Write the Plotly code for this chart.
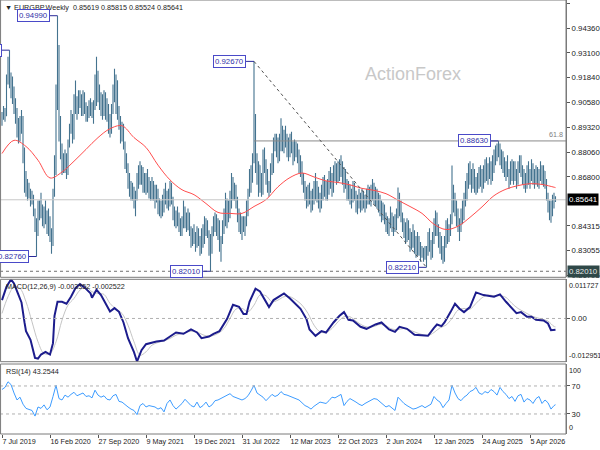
import pandas as pd
import plotly.graph_objects as go

START = pd.Timestamp("2019-07-07")

# weekly EURGBP bars, in pips (0.0001), first bar = week of 7 Jul 2019
lows = [
    8940, 8970, 8960, 8990, 9150, 9130, 9080, 9050, 9000, 8950,
    8880, 8850, 8860, 8900, 8750, 8600, 8580, 8560, 8570, 8530,
    8540, 8480, 8400, 8276, 8380, 8460, 8470, 8430, 8420, 8440,
    8390, 8380, 8350, 8290, 8330, 8580, 8690, 9020, 8860, 8770,
    8690, 8700, 8700, 8670, 8690, 8830, 8900, 8850, 8870, 9000,
    8970, 9000, 9030, 8990, 8990, 9000, 8960, 8960, 8980, 8990,
    8980, 8950, 9020, 9040, 9060, 9020, 8990, 8970, 8990, 8970,
    8960, 8900, 8880, 8900, 9000, 9060, 9000, 8970, 8920, 8850,
    8860, 8820, 8720, 8700, 8620, 8580, 8560, 8560, 8520, 8480,
    8560, 8620, 8640, 8640, 8600, 8600, 8590, 8600, 8570, 8560,
    8560, 8560, 8520, 8550, 8490, 8480, 8470, 8480, 8500, 8540,
    8520, 8510, 8530, 8540, 8460, 8430, 8420, 8430, 8400, 8380,
    8380, 8420, 8420, 8400, 8410, 8380, 8320, 8330, 8340, 8300,
    8320, 8330, 8280, 8290, 8320, 8340, 8380, 8370, 8280, 8201,
    8290, 8380, 8400, 8380, 8360, 8300, 8250, 8340, 8390, 8430,
    8420, 8450, 8470, 8520, 8560, 8560, 8520, 8450, 8400, 8390,
    8360, 8400, 8380, 8430, 8480, 8580, 8600, 8650, 8750, 8700,
    8640, 8580, 8600, 8580, 8590, 8700, 8640, 8600, 8580, 8600,
    8690, 8700, 8810, 8780, 8750, 8760, 8810, 8810, 8800, 8830,
    8780, 8760, 8780, 8800, 8740, 8760, 8780, 8750, 8700, 8680,
    8640, 8600, 8560, 8520, 8530, 8540, 8500, 8510, 8540, 8560,
    8550, 8520, 8500, 8520, 8560, 8580, 8560, 8560, 8590, 8620,
    8580, 8600, 8660, 8640, 8650, 8660, 8680, 8640, 8600, 8620,
    8560, 8560, 8540, 8520, 8550, 8560, 8500, 8490, 8520, 8500,
    8510, 8520, 8500, 8520, 8540, 8540, 8530, 8560, 8540, 8530,
    8520, 8500, 8480, 8450, 8460, 8440, 8400, 8390, 8380, 8420,
    8400, 8380, 8400, 8410, 8470, 8480, 8450, 8400, 8370, 8340,
    8350, 8360, 8300, 8310, 8320, 8290, 8270, 8280, 8280, 8250,
    8270, 8250, 8260, 8221, 8280, 8300, 8260, 8270, 8340, 8380,
    8380, 8320, 8290, 8260, 8239, 8250, 8320, 8340, 8350, 8380,
    8440, 8500, 8480, 8430, 8400, 8355, 8400, 8440, 8460, 8530,
    8560, 8620, 8640, 8600, 8620, 8600, 8590, 8600, 8620, 8630,
    8600, 8620, 8650, 8660, 8640, 8670, 8640, 8660, 8700, 8740,
    8760, 8780, 8740, 8720, 8700, 8680, 8660, 8680, 8620, 8640,
    8660, 8640, 8660, 8620, 8640, 8700, 8680, 8640, 8620, 8600,
    8620, 8640, 8620, 8660, 8640, 8620, 8640, 8630, 8620, 8660,
    8640, 8630, 8620, 8560, 8500, 8460, 8448, 8480, 8520, 8552.4,
]
highs = [
    9010, 9040, 9030, 9200, 9290, 9324, 9210, 9190, 9140, 9080,
    9030, 8980, 8990, 9020, 8990, 8830, 8710, 8670, 8650, 8620,
    8610, 8590, 8520, 8470, 8560, 8560, 8600, 8540, 8530, 8560,
    8510, 8520, 8480, 8420, 8620, 8790, 9150, 9499, 9350, 8990,
    8850, 8800, 8820, 8800, 8870, 8950, 9020, 9000, 9100, 9170,
    9090, 9120, 9120, 9100, 9120, 9110, 9060, 9040, 9070, 9080,
    9060, 9070, 9200, 9290, 9220, 9150, 9110, 9100, 9120, 9110,
    9080, 9050, 9000, 9050, 9150, 9230, 9200, 9170, 9040, 8990,
    8960, 8950, 8860, 8800, 8750, 8700, 8660, 8650, 8630, 8610,
    8700, 8740, 8760, 8740, 8730, 8700, 8700, 8720, 8680, 8660,
    8680, 8660, 8640, 8640, 8620, 8570, 8560, 8590, 8620, 8650,
    8610, 8620, 8660, 8650, 8580, 8530, 8510, 8530, 8500, 8470,
    8480, 8560, 8530, 8500, 8520, 8500, 8430, 8420, 8440, 8400,
    8430, 8420, 8380, 8420, 8440, 8480, 8470, 8460, 8410, 8390,
    8430, 8480, 8500, 8490, 8470, 8460, 8380, 8460, 8520, 8600,
    8570, 8560, 8610, 8700, 8680, 8650, 8640, 8580, 8520, 8500,
    8480, 8480, 8480, 8560, 8620, 8720, 8740, 8800, 9267, 9000,
    8800, 8760, 8740, 8700, 8820, 8830, 8770, 8720, 8660, 8750,
    8800, 8880, 8900, 8900, 8880, 8900, 8978, 8940, 8920, 8940,
    8900, 8880, 8900, 8910, 8860, 8870, 8860, 8850, 8820, 8790,
    8760, 8700, 8660, 8630, 8640, 8650, 8610, 8620, 8660, 8700,
    8660, 8630, 8600, 8640, 8680, 8690, 8660, 8670, 8710, 8730,
    8700, 8740, 8760, 8750, 8760, 8770, 8790, 8760, 8730, 8720,
    8670, 8660, 8640, 8620, 8660, 8650, 8610, 8590, 8620, 8600,
    8620, 8610, 8590, 8620, 8640, 8630, 8640, 8670, 8650, 8630,
    8620, 8600, 8590, 8560, 8550, 8540, 8500, 8480, 8470, 8530,
    8500, 8480, 8490, 8520, 8626, 8600, 8560, 8500, 8470, 8450,
    8470, 8460, 8420, 8400, 8440, 8410, 8380, 8400, 8380, 8350,
    8330, 8320, 8330, 8330, 8400, 8420, 8360, 8400, 8470, 8510,
    8500, 8440, 8400, 8380, 8330, 8380, 8460, 8470, 8440, 8490,
    8738, 8640, 8600, 8560, 8520, 8470, 8520, 8560, 8600, 8660,
    8700, 8750, 8760, 8720, 8750, 8720, 8680, 8700, 8730, 8740,
    8720, 8740, 8770, 8780, 8750, 8780, 8760, 8790, 8820, 8840,
    8850, 8863, 8850, 8820, 8810, 8780, 8760, 8790, 8720, 8760,
    8770, 8760, 8760, 8720, 8760, 8790, 8790, 8740, 8720, 8700,
    8740, 8760, 8720, 8770, 8750, 8720, 8740, 8730, 8720, 8760,
    8740, 8740, 8710, 8670, 8600, 8560, 8560, 8590, 8600, 8581.5,
]
closes = [
    8990, 9000, 8990, 9180, 9230, 9150, 9120, 9080, 9030, 8990,
    8920, 8880, 8940, 8960, 8800, 8650, 8620, 8600, 8590, 8560,
    8580, 8500, 8430, 8390, 8520, 8490, 8510, 8460, 8490, 8470,
    8420, 8470, 8380, 8340, 8600, 8740, 9090, 9300, 8920, 8800,
    8740, 8720, 8760, 8700, 8850, 8920, 8980, 8880, 9070, 9050,
    9020, 9080, 9060, 9040, 9080, 9030, 8990, 9010, 9040, 9020,
    9000, 9040, 9180, 9110, 9090, 9060, 9020, 9050, 9080, 9010,
    9030, 8930, 8920, 9010, 9120, 9100, 9170, 8990, 8960, 8880,
    8900, 8840, 8740, 8720, 8650, 8620, 8590, 8600, 8560, 8580,
    8670, 8690, 8700, 8670, 8650, 8620, 8680, 8620, 8600, 8590,
    8640, 8580, 8600, 8590, 8510, 8500, 8520, 8560, 8590, 8570,
    8550, 8580, 8600, 8560, 8490, 8460, 8450, 8470, 8440, 8410,
    8450, 8500, 8440, 8420, 8480, 8400, 8350, 8370, 8360, 8330,
    8400, 8360, 8310, 8390, 8350, 8450, 8420, 8400, 8300, 8340,
    8380, 8440, 8470, 8410, 8440, 8330, 8360, 8400, 8460, 8560,
    8470, 8520, 8580, 8600, 8600, 8600, 8560, 8470, 8430, 8420,
    8410, 8440, 8450, 8520, 8600, 8660, 8700, 8760, 8920, 8720,
    8700, 8740, 8640, 8630, 8780, 8760, 8690, 8640, 8610, 8720,
    8750, 8840, 8860, 8820, 8790, 8870, 8900, 8850, 8880, 8860,
    8800, 8840, 8860, 8830, 8770, 8800, 8810, 8780, 8730, 8720,
    8680, 8620, 8580, 8560, 8600, 8570, 8530, 8590, 8620, 8650,
    8580, 8560, 8540, 8610, 8640, 8620, 8600, 8640, 8690, 8660,
    8620, 8710, 8700, 8690, 8720, 8730, 8750, 8670, 8700, 8650,
    8590, 8600, 8570, 8600, 8620, 8580, 8520, 8560, 8550, 8540,
    8580, 8540, 8560, 8590, 8600, 8570, 8610, 8620, 8570, 8580,
    8550, 8530, 8510, 8480, 8500, 8460, 8430, 8420, 8450, 8480,
    8440, 8410, 8460, 8490, 8560, 8520, 8470, 8430, 8400, 8380,
    8440, 8390, 8330, 8360, 8400, 8330, 8290, 8360, 8300, 8280,
    8290, 8270, 8280, 8300, 8340, 8330, 8290, 8370, 8430, 8440,
    8420, 8350, 8330, 8300, 8270, 8340, 8420, 8380, 8390, 8450,
    8600, 8530, 8510, 8460, 8430, 8410, 8480, 8500, 8570, 8610,
    8660, 8700, 8680, 8640, 8700, 8620, 8640, 8670, 8690, 8700,
    8640, 8710, 8740, 8690, 8720, 8740, 8680, 8770, 8790, 8790,
    8820, 8830, 8770, 8790, 8730, 8710, 8740, 8700, 8660, 8720,
    8690, 8730, 8680, 8660, 8730, 8760, 8700, 8670, 8650, 8640,
    8710, 8670, 8690, 8740, 8670, 8690, 8710, 8660, 8700, 8720,
    8670, 8710, 8640, 8580, 8520, 8520, 8490, 8560, 8561.9, 8564.1,
]
first_open = 8975

# red moving average, read every 8 weeks
ma_weeks = list(range(0, 369, 8)) + [369]
ma_vals = [
    8799, 8866, 8835, 8765, 8675, 8705, 8760, 8820, 8880, 8925,
    8940, 8880, 8830, 8740, 8665, 8615, 8590, 8545, 8500, 8495,
    8495, 8530, 8565, 8630, 8677, 8700, 8680, 8660, 8652, 8640,
    8622, 8612, 8595, 8562, 8530, 8495, 8440, 8413, 8430, 8475,
    8528, 8585, 8618, 8636, 8646, 8642, 8628, 8626,
]

# MACD main line (x 0.0001) at the weeks where it was read
macd_weeks = [
    0, 3, 6, 8, 10, 13, 15, 16, 19, 21, 22, 24, 26, 29, 32, 34, 35, 37, 40, 43,
    46, 49, 52, 55, 59, 60, 63, 66, 70, 72, 75, 78, 81, 84, 88, 90, 93, 96, 103, 108,
    112, 116, 121, 126, 130, 133, 138, 141, 145, 150, 154, 158, 161, 163, 165, 169, 172, 175, 178, 181,
    188, 192, 196, 199, 203, 205, 209, 213, 216, 221, 225, 228, 231, 234, 239, 243, 249, 253, 258, 262,
    265, 270, 275, 281, 284, 288, 290, 293, 295, 299, 302, 305, 308, 312, 316, 321, 328, 332, 336, 343,
    346, 350, 353, 356, 361, 364, 366, 369,
]
macd_vals = [
    55, 95, 117, 105, 82, 48, -12, -38, -64, -95, -118, -120, -108, -100, -108, -74, 8, 50, 50, 44,
    65, 91, 103, 93, 75, 62, 86, 70, 39, 21, 31, 20, -12, -59, -101, -129, -95, -77, -69, -66,
    -54, -42, -46, -33, -42, -59, -54, -46, -38, -2, 41, 35, 13, 13, 50, 89, 81, 58, 34, 55,
    75, 60, 41, 29, -2, -33, -52, -38, -42, -12, 8, 19, -4, -6, -25, -31, -18, -12, -33, -40,
    -25, -31, -49, -52, -52, -28, -18, -23, -12, 19, 44, 29, 19, 34, 78, 70, 65, 72, 50, 16,
    19, 5, 5, -4, -6, -15, -35, -33.52,
]
# MACD signal (x 0.0001), every 4 weeks
signal_weeks = list(range(0, 369, 4)) + [369]
signal_vals = [
    15, 65, 95, 90, 50, -10, -70, -105, -105, -70, -5, 40, 60, 85, 95, 80, 75, 72, 45, 28,
    15, -20, -70, -110, -100, -80, -72, -67, -60, -50, -45, -40, -38, -45, -52, -52, -45, -30, 0, 28,
    30, 20, 40, 70, 68, 50, 55, 65, 65, 55, 40, 15, -20, -40, -42, -30, -10, 5, 5, -8,
    -20, -26, -24, -18, -22, -32, -33, -30, -35, -42, -48, -51, -42, -28, -20, 0, 25, 30, 28, 45,
    62, 70, 68, 68, 63, 45, 30, 20, 10, 3, -2, -8, -24, -25.22,
]

# RSI(14), every 2 weeks
rsi_weeks = list(range(0, 369, 2)) + [369]
rsi_vals = [
    65, 68, 76, 72, 60, 50, 54, 44, 38, 37, 35, 27, 40, 38, 43, 36, 40, 55, 71, 52,
    50, 57, 54, 58, 61, 56, 58, 60, 55, 56, 53, 64, 57, 54, 56, 51, 50, 56, 58, 48,
    47, 43, 40, 37, 35, 29, 42, 45, 40, 42, 41, 40, 37, 39, 33, 45, 50, 42, 37, 41,
    45, 51, 47, 42, 40, 47, 39, 42, 47, 40, 43, 49, 50, 52, 55, 57, 59, 55, 53, 51,
    50, 52, 56, 63, 71, 60, 57, 54, 49, 53, 58, 55, 57, 62, 58, 57, 55, 53, 52, 50,
    46, 42, 40, 37, 41, 44, 47, 46, 45, 49, 54, 53, 55, 58, 42, 48, 52, 50, 47, 44,
    42, 45, 47, 49, 52, 51, 47, 44, 40, 42, 39, 35, 54, 49, 45, 42, 39, 37, 38, 40,
    42, 39, 41, 44, 55, 50, 47, 39, 45, 50, 71, 60, 52, 49, 54, 57, 62, 64, 68, 60,
    58, 62, 60, 65, 62, 57, 68, 62, 58, 52, 55, 48, 56, 58, 47, 52, 50, 45, 52, 55,
    45, 50, 46, 37, 42, 43.25,
]

date_ticks = ["2019-07-07", "2020-02-16", "2020-09-27", "2021-05-09", "2021-12-19", "2022-07-31",
              "2023-03-12", "2023-10-22", "2024-06-02", "2025-01-12", "2025-08-24", "2026-04-05"]
date_labels = ["7 Jul 2019", "16 Feb 2020", "27 Sep 2020", "9 May 2021", "19 Dec 2021", "31 Jul 2022",
               "12 Mar 2023", "22 Oct 2023", "2 Jun 2024", "12 Jan 2025", "24 Aug 2025", "5 Apr 2026"]
price_ticks = [0.95620, 0.94360, 0.93100, 0.91840, 0.90580, 0.89320, 0.88060, 0.86800,
               0.84315, 0.83055, 0.81795]

# swing high / low callouts
callout_weeks = [5, 23, 37, 139, 168, 283, 331]
callout_prices = [0.93240, 0.82760, 0.94990, 0.82010, 0.92670, 0.82210, 0.88630]

last_price = 0.85641
support = 0.82010
fib_level = 0.88630

BAR = "#44738f"
FONT = "Liberation Sans, Arial, sans-serif"
AX = 7.8   # right axis label size
TX = 7.2   # header / date label size


def wk(w):
    return START + pd.Timedelta(days=7 * w)


def pip(vals):
    return [v / 10000 for v in vals]


dates = [wk(i) for i in range(len(closes))]
opens = [first_open] + closes[:-1]

fig = go.Figure()

fig.add_trace(go.Ohlc(
    x=dates, open=pip(opens), high=pip(highs), low=pip(lows), close=pip(closes),
    increasing=dict(line=dict(color=BAR, width=1.1)),
    decreasing=dict(line=dict(color=BAR, width=1.1)),
    tickwidth=0.3, hoverinfo="skip", xaxis="x", yaxis="y",
))
fig.add_trace(go.Scatter(
    x=[wk(w) for w in ma_weeks], y=pip(ma_vals), mode="lines",
    line=dict(color="#ff4d4d", width=1, shape="spline"), yaxis="y",
))

fig.add_trace(go.Scatter(
    x=[wk(w) for w in signal_weeks], y=pip(signal_vals), mode="lines",
    line=dict(color="#c4c4c4", width=1, shape="spline"), yaxis="y2",
))
fig.add_trace(go.Scatter(
    x=[wk(w) for w in macd_weeks], y=pip(macd_vals), mode="lines",
    line=dict(color="#1c1c8c", width=2), yaxis="y2",
))

fig.add_trace(go.Scatter(
    x=[wk(w) for w in rsi_weeks], y=rsi_vals, mode="lines",
    line=dict(color="#3d9cff", width=1), yaxis="y3",
))

H = 434.0
main_dom = [(H - 277.3) / H, 1.0]
macd_dom = [(H - 361.7) / H, (H - 279.3) / H]
rsi_dom = [0.0, (H - 364) / H]

shapes = []
# horizontal reference lines
shapes.append(dict(type="line", xref="paper", x0=0, x1=1, yref="y", y0=last_price, y1=last_price,
                   line=dict(color="#c8c8c8", width=1)))
shapes.append(dict(type="line", xref="paper", x0=0, x1=1, yref="y", y0=support, y1=support,
                   line=dict(color="#707070", width=1, dash="dot")))
shapes.append(dict(type="line", xref="x", x0=wk(168), x1=wk(376), yref="y", y0=fib_level, y1=fib_level,
                   line=dict(color="#8a8a8a", width=1)))
shapes.append(dict(type="line", xref="x", x0=wk(168), x1=wk(283), yref="y", y0=0.92670, y1=0.82210,
                   line=dict(color="#505050", width=1, dash="dot")))
shapes.append(dict(type="line", xref="paper", x0=0, x1=1, yref="y2", y0=0, y1=0,
                   line=dict(color="#b0b0b0", width=1, dash="dot")))
for lvl in (70, 30):
    shapes.append(dict(type="line", xref="paper", x0=0, x1=1, yref="y3", y0=lvl, y1=lvl,
                       line=dict(color="#b0b0b0", width=1, dash="dot")))
# callout connectors
for w, pr in zip(callout_weeks, callout_prices):
    shapes.append(dict(type="line", xref="x", x0=wk(w - 5.3), x1=wk(w), yref="y", y0=pr, y1=pr,
                       line=dict(color="#2a2a9a", width=1)))
# panel frames
for dom in (main_dom, macd_dom, rsi_dom):
    shapes.append(dict(type="rect", xref="paper", yref="paper", x0=0.001, x1=1, y0=dom[0], y1=dom[1],
                       line=dict(color="#7a7a7a", width=1)))

ann = []
ann.append(dict(xref="paper", yref="paper", x=0, y=1, xanchor="left", yanchor="top", xshift=3, yshift=-1,
                text="▼ EURGBP,Weekly  0.85619 0.85815 0.85524 0.85641",
                showarrow=False, font=dict(size=TX, color="#222")))
ann.append(dict(xref="paper", yref="y2 domain", x=0, y=1, xanchor="left", yanchor="top", xshift=4, yshift=-1,
                text="MACD(12,26,9) -0.003352 -0.002522", showarrow=False, font=dict(size=TX, color="#222")))
ann.append(dict(xref="paper", yref="y3 domain", x=0, y=1, xanchor="left", yanchor="top", xshift=4, yshift=-1,
                text="RSI(14) 43.2544", showarrow=False, font=dict(size=TX, color="#222")))
ann.append(dict(xref="x", yref="y", x=wk(274), y=0.9203, text="ActionForex", showarrow=False,
                font=dict(size=18, color="#c8c8c8")))
ann.append(dict(xref="paper", yref="y", x=1, y=fib_level, xanchor="right", yanchor="bottom", xshift=-1,
                text="61.8", showarrow=False, font=dict(size=TX, color="#808080")))
for w, pr in zip(callout_weeks, callout_prices):
    ann.append(dict(xref="x", yref="y", x=wk(w - 5.3), y=pr, xanchor="right", yanchor="middle",
                    text=f"{pr:.5f}", showarrow=False, bgcolor="white", bordercolor="#4a4ac8",
                    borderwidth=1, borderpad=1, font=dict(size=AX, color="#3030a8")))
# right-axis boxes and clamped extremes
ann.append(dict(xref="paper", yref="y", x=1, y=last_price, xanchor="left", yanchor="middle", xshift=1,
                text=f"{last_price:.5f}", showarrow=False, bgcolor="#000000", borderpad=1,
                font=dict(size=AX, color="white")))
ann.append(dict(xref="paper", yref="y", x=1, y=support, xanchor="left", yanchor="middle", xshift=1,
                text=f"{support:.5f}", showarrow=False, bgcolor="#2f4848", borderpad=1,
                font=dict(size=AX, color="#e8e8e8")))
for txt, ref, yv, anc in (("0.011727", "y2 domain", 1, "top"), ("-0.012951", "y2 domain", 0, "bottom"),
                          ("100", "y3 domain", 1, "top"), ("0", "y3 domain", 0, "bottom")):
    ann.append(dict(xref="paper", yref=ref, x=1, y=yv, xanchor="left", yanchor=anc, xshift=1,
                    text=txt, showarrow=False, font=dict(size=7.2, color="#222")))

axis_common = dict(side="right", anchor="x", showgrid=False, zeroline=False, ticks="outside",
                   ticklen=3, tickcolor="#555", tickfont=dict(size=AX, color="#222"),
                   showline=True, linecolor="#7a7a7a", fixedrange=True)

fig.update_layout(
    width=600, height=450,
    margin=dict(l=0, r=34, t=0, b=16),
    paper_bgcolor="white", plot_bgcolor="white",
    showlegend=False,
    font=dict(family=FONT, size=8, color="#222"),
    xaxis=dict(type="date", range=[wk(-1.333), wk(376)], anchor="y3", fixedrange=True,
               tickvals=date_ticks, ticktext=date_labels, ticks="outside", ticklen=3, tickcolor="#555",
               ticklabelposition="outside right", tickangle=0, tickfont=dict(size=TX, color="#222"),
               showgrid=False, zeroline=False, showline=False, rangeslider=dict(visible=False)),
    yaxis=dict(domain=main_dom, range=[0.81704, 0.95788], tickvals=price_ticks, tickformat=".5f",
               **axis_common),
    yaxis2=dict(domain=macd_dom, range=[-0.012951, 0.011727], tickvals=[0], ticktext=["0.00"],
                **axis_common),
    yaxis3=dict(domain=rsi_dom, range=[1.4, 101.4], tickvals=[70, 30], **axis_common),
    shapes=shapes,
    annotations=ann,
)

# the page body has a default 8px margin; drop it so the chart sits at the window origin
fig.write_html("out.html", config={"displayModeBar": False},
               post_script="document.body.style.margin = '0';")
